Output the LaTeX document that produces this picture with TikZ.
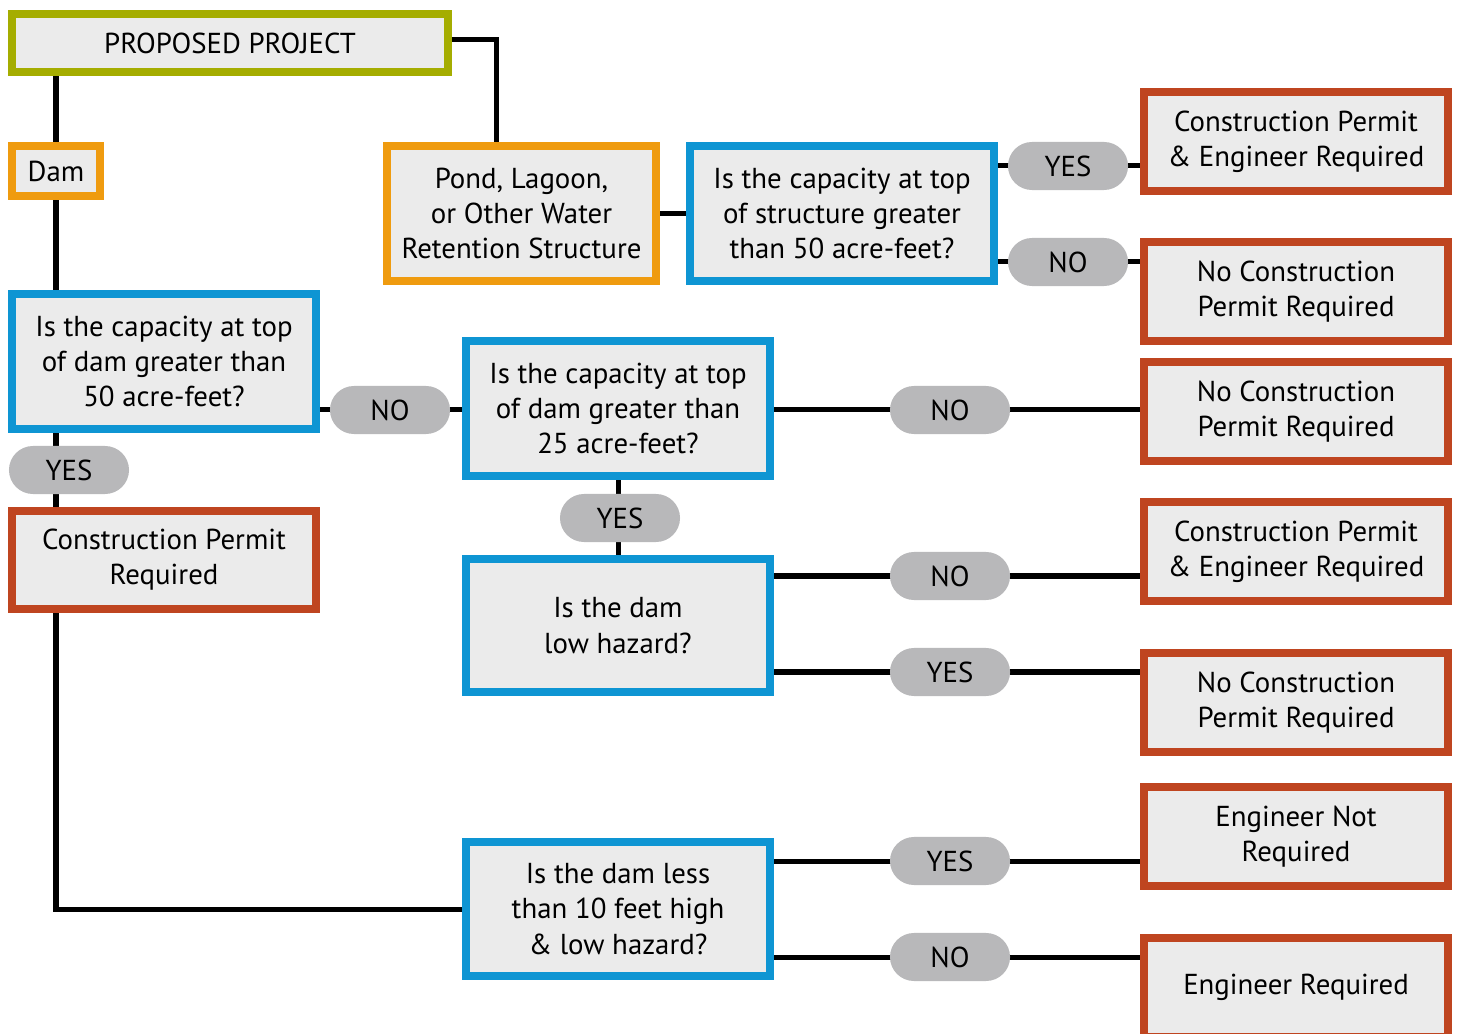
\documentclass[tikz,border=0pt]{standalone}
\usepackage{fontspec}
\setmainfont{PT Sans}
\usepackage{tikz}
\usetikzlibrary{backgrounds}

\definecolor{projgreen}{HTML}{A5AD00}
\definecolor{typeorange}{HTML}{EF9B0F}
\definecolor{askblue}{HTML}{0E95D3}
\definecolor{endred}{HTML}{BF4520}
\definecolor{pillgray}{HTML}{B8B8BA}
\definecolor{boxgray}{HTML}{EBEBEB}

\begin{document}
\begin{tikzpicture}[x=0.01cm, y=-0.01cm,
                    base/.style={draw, line width=0.08cm, fill=boxgray, align=center, inner sep=0pt,
                                 font=\fontsize{8.2}{10}\selectfont},
                    start node/.style={base, draw=projgreen, minimum width=4.36cm, minimum height=0.58cm},
                    type node/.style={base, draw=typeorange},
                    ask node/.style={base, draw=askblue, minimum width=3.04cm, minimum height=1.35cm},
                    end node/.style={base, draw=endred, minimum width=3.04cm, minimum height=0.99cm},
                    answer/.style={fill=pillgray, rounded corners=0.24cm, minimum width=1.2cm, minimum height=0.48cm,
                                   inner sep=0pt, font=\fontsize{8.2}{10}\selectfont},
                    link/.style={line width=0.05cm}]

  \clip (0,0) rectangle (1458,1034);

  % start and project types
  \node[start node] (proj) at (230,43) {PROPOSED PROJECT};
  \node[type node, minimum width=0.88cm, minimum height=0.5cm] (dam) at (56,171) {Dam};
  \node[type node, minimum width=2.69cm, minimum height=1.35cm] (pond) at (521.5,213.5)
       {Pond, Lagoon,\\or Other Water\\Retention Structure};

  % questions
  \node[ask node] (qpond) at (842,213.5) {Is the capacity at top\\of structure greater\\than 50 acre-feet?};
  \node[ask node] (q50) at (164,361.5) {Is the capacity at top\\of dam greater than\\50 acre-feet?};
  \node[ask node] (q25) at (618,408.5) {Is the capacity at top\\of dam greater than\\25 acre-feet?};
  \node[ask node, minimum height=1.33cm] (qhaz) at (618,625.5) {Is the dam\\low hazard?};
  \node[ask node, minimum height=1.34cm] (q10) at (618,909) {Is the dam less\\than 10 feet high\\\& low hazard?};

  % outcomes
  \node[end node] (endA) at (1296,141.5) {Construction Permit\\\& Engineer Required};
  \node[end node] (endB) at (1296,291.5) {No Construction\\Permit Required};
  \node[end node] (endC) at (1296,411.5) {No Construction\\Permit Required};
  \node[end node, minimum height=0.98cm] (cpr) at (164,560) {Construction Permit\\Required};
  \node[end node] (endD) at (1296,551.5) {Construction Permit\\\& Engineer Required};
  \node[end node] (endE) at (1296,702.5) {No Construction\\Permit Required};
  \node[end node] (endF) at (1296,836.5) {Engineer Not\\Required};
  \node[end node] (endG) at (1296,987.5) {Engineer Required};

  % answers
  \node[answer] (yesA) at (1068,166) {YES};
  \node[answer] (noA) at (1068,262) {NO};
  \node[answer] (noB) at (390,410) {NO};
  \node[answer] (noC) at (950,410) {NO};
  \node[answer] (yesB) at (69,470) {YES};
  \node[answer] (yesC) at (620,518) {YES};
  \node[answer] (noD) at (950,576) {NO};
  \node[answer] (yesD) at (950,672) {YES};
  \node[answer] (yesE) at (950,861) {YES};
  \node[answer] (noE) at (950,957) {NO};

  \begin{scope}[on background layer]
    \draw[link] (proj.east |- 0,40) -| ([xshift=-0.245cm]pond.north);
    \draw[link] (proj.south -| dam) -- (dam.north);
    \draw[link] (dam.south) -- (dam.south |- q50.north);
    \draw[link] (dam |- q50.south) -- (dam |- cpr.north);
    \draw[link] (dam |- cpr.south) |- (q10.west);
    \draw[link] (pond.east) -- (qpond.west);
    \draw[link] (qpond.east |- yesA) -- (yesA -| endA.west);
    \draw[link] (qpond.east |- noA) -- (noA -| endB.west);
    \draw[link] (q50.east |- noB) -- (noB -| q25.west);
    \draw[link] (q25.east |- noC) -- (noC -| endC.west);
    \draw[link] (q25.south) -- (q25.south |- qhaz.north);
    \draw[link] (qhaz.east |- noD) -- (noD -| endD.west);
    \draw[link] (qhaz.east |- yesD) -- (yesD -| endE.west);
    \draw[link] (q10.east |- yesE) -- (yesE -| endF.west);
    \draw[link] (q10.east |- noE) -- (noE -| endG.west);
  \end{scope}

\end{tikzpicture}
\end{document}
